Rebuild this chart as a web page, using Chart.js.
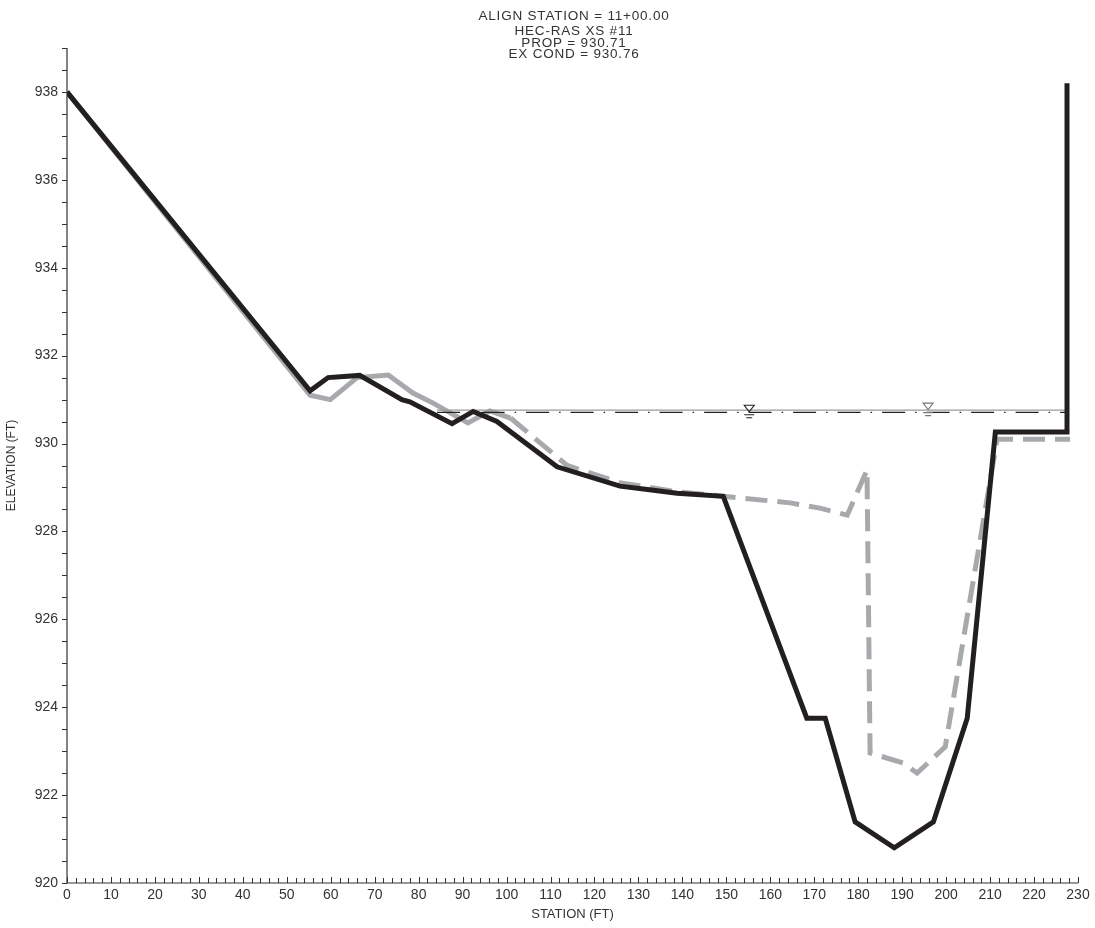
<!DOCTYPE html>
<html>
<head>
<meta charset="utf-8">
<title>HEC-RAS XS #11</title>
<script src="https://cdn.jsdelivr.net/npm/chart.js@4.4.0/dist/chart.umd.min.js"></script>
<style>
  html, body { margin: 0; padding: 0; background: #fff; }
  #wrap { width: 1095px; height: 928px; position: relative; }
</style>
</head>
<body>
<div id="wrap"><canvas id="xsChart" width="1095" height="928"></canvas></div>
<script>
// Cross section data (station ft, elevation ft)
const propStations = [0, 55.3, 59.4, 66.6, 76.2, 78, 87.6, 92.4, 97.8, 111.5, 125.8, 131.6, 138.8, 149.3, 168.3, 172.5, 179.3, 188.2, 197.1, 204.8, 211.2, 227.5, 227.5];
const propElev = [938, 931.2, 931.5, 931.55, 931.0, 930.95, 930.45, 930.73, 930.5, 929.47, 929.03, 928.96, 928.87, 928.8, 923.75, 923.75, 921.39, 920.8, 921.39, 923.75, 930.26, 930.26, 938.2];

const exStations = [0, 55.3, 59.9, 66, 73.1, 78.7, 83.3, 91.2, 96.2, 100.9, 113.8, 126, 139, 149.3, 164.5, 171.3, 177.5, 182, 182.7, 190.2, 193.4, 199.8, 211.6, 228.2];
const exElev = [938, 931.1, 931.0, 931.5, 931.56, 931.15, 930.92, 930.47, 930.74, 930.58, 929.5, 929.1, 928.9, 928.8, 928.65, 928.53, 928.37, 929.4, 922.96, 922.73, 922.5, 923.1, 930.1, 930.1];

// water surfaces
const wsProp = 930.71;
const wsEx = 930.76;
const wsStations = [84.2, 227.5];
const markerProp = 155.2;
const markerEx = 195.9;

// axis ticks
const xTicks = [0, 10, 20, 30, 40, 50, 60, 70, 80, 90, 100, 110, 120, 130, 140, 150, 160, 170, 180, 190, 200, 210, 220, 230];
const yTicks = [920, 922, 924, 926, 928, 930, 932, 934, 936, 938];

const titleLines = ['ALIGN STATION = 11+00.00', 'HEC-RAS XS #11', 'PROP = 930.71', 'EX COND = 930.76'];

const BLACK = '#231f20';
const GRAY = '#a7a9ac';
const FONT = '"Liberation Sans", Arial, sans-serif';

function toPoints(xs, ys) {
    return xs.map((x, i) => ({ x: x, y: ys[i] }));
}

// axis lines, small ticks, title and water surface symbols
const cadPlugin = {
    id: 'cadPlugin',
    afterDraw(chart) {
        const ctx = chart.ctx;
        const xs = chart.scales.x;
        const ys = chart.scales.y;
        const area = chart.chartArea;

        ctx.save();
        ctx.strokeStyle = '#333';
        ctx.lineWidth = 1.2;
        ctx.beginPath();
        ctx.moveTo(area.left, area.top);
        ctx.lineTo(area.left, area.bottom);
        ctx.lineTo(area.right, area.bottom);
        ctx.stroke();

        // y ticks every 0.5 ft, pointing left
        ctx.lineWidth = 1;
        ctx.beginPath();
        for (let v = ys.min; v <= ys.max + 0.001; v += 0.5) {
            const py = Math.round(ys.getPixelForValue(v)) + 0.5;
            ctx.moveTo(area.left - 5, py);
            ctx.lineTo(area.left, py);
        }
        // x ticks every 2 ft, pointing up
        for (let v = xs.min; v <= xs.max + 0.001; v += 2) {
            const px = Math.round(xs.getPixelForValue(v)) + 0.5;
            ctx.moveTo(px, area.bottom);
            ctx.lineTo(px, area.bottom - (v % 10 === 0 ? 6 : 5));
        }
        ctx.stroke();

        // title block
        ctx.fillStyle = '#333';
        ctx.font = '13.5px ' + FONT;
        ctx.letterSpacing = '0.8px';
        ctx.textAlign = 'center';
        ctx.textBaseline = 'middle';
        const cx = 574;
        const ty = [16.5, 31.5, 43, 54];
        titleLines.forEach((t, i) => ctx.fillText(t, cx, ty[i]));
        ctx.letterSpacing = '0px';

        // water surface triangles
        function wsSymbol(station, elev, color) {
            const px = xs.getPixelForValue(station);
            const py = ys.getPixelForValue(elev);
            ctx.strokeStyle = color;
            ctx.lineWidth = 1.1;
            ctx.beginPath();
            ctx.moveTo(px - 5, py - 7);
            ctx.lineTo(px + 5, py - 7);
            ctx.lineTo(px, py - 0.5);
            ctx.closePath();
            ctx.stroke();
            ctx.beginPath();
            ctx.moveTo(px - 5, py + 2.5);
            ctx.lineTo(px + 5, py + 2.5);
            ctx.moveTo(px - 3, py + 5.5);
            ctx.lineTo(px + 3, py + 5.5);
            ctx.stroke();
        }
        wsSymbol(markerProp, wsProp, BLACK);
        wsSymbol(markerEx, wsEx, '#777');
        ctx.restore();
    }
};

const ctx = document.getElementById('xsChart').getContext('2d');
const xsChart = new Chart(ctx, {
    type: 'line',
    data: {
        datasets: [
            {
                label: 'Proposed',
                data: toPoints(propStations, propElev),
                borderColor: BLACK,
                borderWidth: 5,
                pointRadius: 0,
                borderJoinStyle: 'miter',
                tension: 0
            },
            {
                label: 'WS Prop',
                data: toPoints(wsStations, [wsProp, wsProp]),
                borderColor: BLACK,
                borderWidth: 1.2,
                borderDash: [23, 10, 1.5, 10],
                pointRadius: 0
            },
            {
                label: 'WS Ex',
                data: toPoints(wsStations, [wsEx, wsEx]),
                borderColor: '#999',
                borderWidth: 1.2,
                pointRadius: 0
            },
            {
                label: 'Existing',
                data: toPoints(exStations, exElev),
                borderColor: GRAY,
                borderWidth: 5,
                pointRadius: 0,
                borderJoinStyle: 'miter',
                tension: 0,
                segment: {
                    borderDash: c => c.p0.parsed.x >= 100 ? [22, 10] : undefined
                }
            }
        ]
    },
    options: {
        responsive: false,
        animation: false,
        parsing: false,
        layout: { padding: { top: 48, right: 17, left: 0, bottom: 0 } },
        plugins: {
            legend: { display: false },
            tooltip: { enabled: false }
        },
        scales: {
            x: {
                type: 'linear',
                min: 0,
                max: 230,
                afterBuildTicks: s => { s.ticks = xTicks.map(v => ({ value: v })); },
                afterFit: s => { s.height = 45; },
                grid: { display: false, drawTicks: false },
                border: { display: false },
                ticks: {
                    autoSkip: false,
                    maxRotation: 0,
                    padding: 4,
                    color: '#333',
                    font: { family: FONT, size: 14 }
                },
                title: {
                    display: true,
                    text: 'STATION (FT)',
                    color: '#333',
                    font: { family: FONT, size: 13 },
                    padding: { top: 0, bottom: 6 }
                }
            },
            y: {
                type: 'linear',
                min: 920,
                max: 939,
                afterBuildTicks: s => { s.ticks = yTicks.map(v => ({ value: v })); },
                afterFit: s => { s.width = 67; },
                grid: { display: false, drawTicks: false },
                border: { display: false },
                ticks: {
                    autoSkip: false,
                    padding: 9,
                    color: '#333',
                    font: { family: FONT, size: 14 }
                },
                title: {
                    display: true,
                    text: 'ELEVATION (FT)',
                    color: '#333',
                    font: { family: FONT, size: 12 },
                    padding: { top: 4, bottom: 0 }
                }
            }
        }
    },
    plugins: [cadPlugin]
});
</script>
</body>
</html>
